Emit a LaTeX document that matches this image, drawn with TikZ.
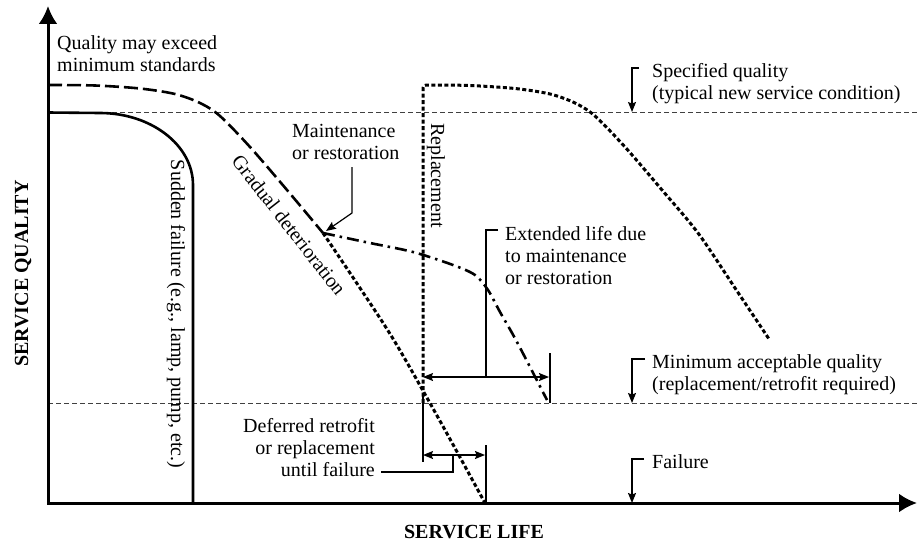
\documentclass[tikz,border=0pt]{standalone}
\usepackage{fontspec}
\setmainfont{Liberation Serif}
\usetikzlibrary{arrows.meta}
\begin{document}
\begin{tikzpicture}[x=1pt,y=-1pt,
  ah/.tip={Stealth[length=10pt,width=8pt,inset=1.5pt]},
  bigtip/.tip={Latex[length=18pt,width=19pt]},
  lbl/.style={font=\fontsize{20}{22}\selectfont, inner sep=0pt, align=left},
  ttl/.style={font=\fontsize{20}{22}\selectfont\bfseries, inner sep=0pt},
  axis/.style={line width=3pt, line join=miter},
  thinln/.style={line width=1.2pt},
  guide/.style={line width=1pt, dash pattern=on 5pt off 3pt, black!75},
  longdash/.style={line width=2.6pt, dash pattern=on 14pt off 5pt},
  shortdash/.style={line width=3pt, dash pattern=on 4pt off 2.5pt},
  dashdot/.style={line width=2.6pt, dash pattern=on 12pt off 5pt on 2.5pt off 5pt},
  solidcurve/.style={line width=2.6pt}
]
\useasboundingbox (0,0) rectangle (917,543);

% coordinates
\coordinate (Ytop) at (48,6);
\coordinate (O) at (48,503);
\coordinate (Xend) at (917,503);
\coordinate (M) at (323,233);

% guide lines
\draw[guide] (48,112) -- (917,112);
\draw[guide] (48,403) -- (917,403);

% axes
\draw[axis, bigtip-bigtip] (Ytop) -- (O) -- (Xend);

% sudden failure
\draw[solidcurve] (48,112.5) -- (100,113) .. controls (151,113) and (193,145) .. (193,185) -- (193,503);

% gradual deterioration
\draw[longdash] plot[smooth] coordinates {(48,85) (95,85.5) (140,88.5) (175,94) (200,103) (220,116) (250,147) (287,190) (M)};
\draw[shortdash] plot[smooth] coordinates {(M) (360,288) (395,342) (440,421) (485,503)};

% maintenance / restoration
\draw[dashdot] plot[smooth] coordinates {(M) (370,243) (413,252) (453,265) (475,275) (488,290) (500,312) (517,342) (547,400)};

% replacement
\draw[shortdash] (423,403) -- (423,91) .. controls (423,85.2) .. (429,85.1) -- plot[smooth] coordinates {(440,85.2) (470,85.5) (515,88.5) (550,94) (575,103) (595,116) (625,147) (662,190) (698,233) (735,288) (769,339)};

% labels
\node[lbl, anchor=north west] (q) at (57,35.3) {Quality may exceed\\minimum standards};
\node[lbl, anchor=north west] (mr) at (292,124.3) {Maintenance\\or restoration};
\node[lbl, anchor=north west] (sq) at (652,63.3) {Specified quality\\(typical new service condition)};
\node[lbl, anchor=north west] (ma) at (652,354.3) {Minimum acceptable quality\\(replacement/retrofit required)};
\node[lbl, anchor=north west] (fl) at (652,454.3) {Failure};
\node[lbl, anchor=north west] (el) at (505,226.3) {Extended life due\\to maintenance\\or restoration};
\node[lbl, anchor=north east, align=right] (dr) at (375,418.3) {Deferred retrofit\\or replacement\\until failure};
\node[lbl, anchor=base, rotate=-90] (sf) at (171,314) {Sudden failure (e.g., lamp, pump, etc.)};
\node[lbl, anchor=base, rotate=-90] (rp) at (431,175.5) {Replacement};
\node[lbl, anchor=center, rotate=-52] (gd) at (289,225) {Gradual deterioration};
\node[ttl, anchor=base, rotate=90] (yq) at (28,273.5) {SERVICE QUALITY};
\node[ttl, anchor=base] (xl) at (474,538) {SERVICE LIFE};

% leader arrows
\coordinate (mrA) at (352,167);
\coordinate (mrB) at (352,213);
\draw[thinln, -ah] (mrA) -- (mrB) -- (326,231);

\coordinate (sqA) at (639,68);
\draw[thinln, -ah] (sqA) -- (632,68) -- (632,112);
\coordinate (maA) at (645,359);
\draw[thinln, -ah] (maA) -- (632,359) -- (632,403);
\coordinate (flA) at (644,459);
\draw[thinln, -ah] (flA) -- (632,459) -- (632,503);

% extended life bracket
\coordinate (eL) at (423,377);
\coordinate (eR) at (549,377);
\draw[thinln, ah-ah] (eL) -- (eR);
\draw[thinln] (550,353) -- (550,403);
\draw[thinln] (498,230) -- (486,230) -- (486,377);
\draw[thinln] (423,395) -- (423,462);

% deferred bracket
\coordinate (dL) at (423,455);
\coordinate (dR) at (485,455);
\draw[thinln, ah-ah] (dL) -- (dR);
\draw[thinln] (486,445) -- (486,503);
\draw[thinln] (381,472) -- (453,472) -- (453,455);
\end{tikzpicture}
\end{document}
